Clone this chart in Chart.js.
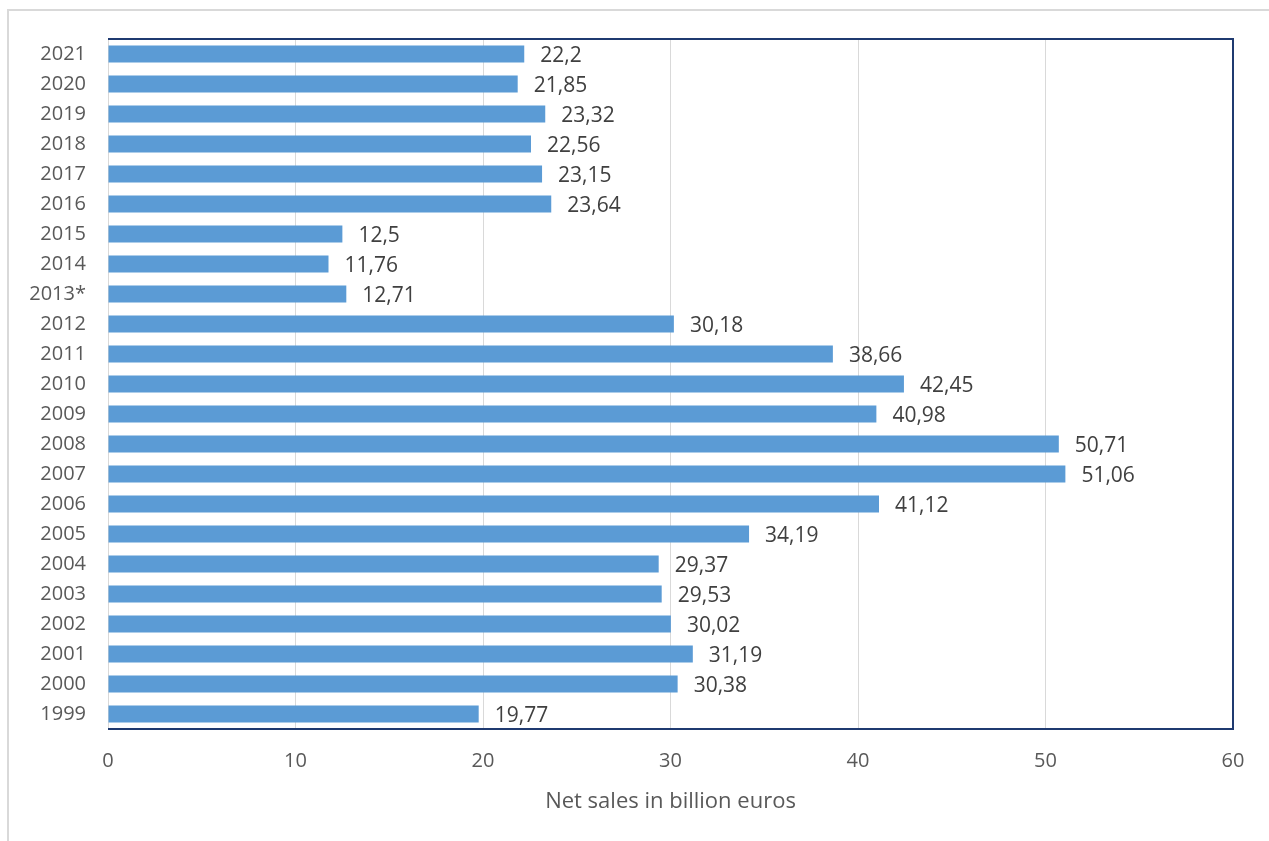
<!DOCTYPE html>
<html>
<head>
<meta charset="utf-8">
<script src="https://cdn.jsdelivr.net/npm/chart.js@4/dist/chart.umd.min.js"></script>
<style>
html,body{margin:0;padding:0;background:#fff;}
#wrap{width:1269px;height:841px;position:relative;}
</style>
</head>
<body>
<div id="wrap"><canvas id="c" width="1269" height="841"></canvas></div>
<script>
const years = ['1999','2000','2001','2002','2003','2004','2005','2006','2007','2008','2009','2010','2011','2012','2013*','2014','2015','2016','2017','2018','2019','2020','2021'];
const netSales = [19.77,30.38,31.19,30.02,29.53,29.37,34.19,41.12,51.06,50.71,40.98,42.45,38.66,30.18,12.71,11.76,12.5,23.64,23.15,22.56,23.32,21.85,22.2];
const xTicks = [0,10,20,30,40,50,60];
const axisTitle = 'Net sales in billion euros';

const FONT = "'Open Sans', sans-serif";

const frame = {
  id: 'frame',
  beforeDraw(chart) {
    const ctx = chart.ctx;
    ctx.save();
    ctx.fillStyle = '#fff';
    ctx.fillRect(0, 0, chart.width, chart.height);
    ctx.strokeStyle = '#d9d9d9';
    ctx.lineWidth = 2;
    ctx.beginPath();
    ctx.moveTo(8, chart.height);
    ctx.lineTo(8, 10);
    ctx.lineTo(chart.width, 10);
    ctx.stroke();
    ctx.restore();
  },
  afterDraw(chart) {
    const a = chart.chartArea, ctx = chart.ctx;
    ctx.save();
    ctx.strokeStyle = '#1f3a70';
    ctx.lineWidth = 2;
    ctx.beginPath();
    ctx.moveTo(a.left, a.top);
    ctx.lineTo(a.right, a.top);
    ctx.lineTo(a.right, a.bottom);
    ctx.lineTo(a.left, a.bottom);
    ctx.stroke();
    ctx.restore();
  }
};

const valueLabels = {
  id: 'valueLabels',
  afterDatasetsDraw(chart) {
    const ctx = chart.ctx;
    const meta = chart.getDatasetMeta(0);
    const data = chart.data.datasets[0].data;
    ctx.save();
    ctx.font = '21px ' + FONT;
    ctx.fillStyle = '#404040';
    ctx.textAlign = 'left';
    ctx.textBaseline = 'middle';
    meta.data.forEach((bar, i) => {
      const txt = String(data[i]).replace('.', ',');
      ctx.fillText(txt, bar.x + 16, bar.y + 2);
    });
    ctx.restore();
  }
};

new Chart(document.getElementById('c'), {
  type: 'bar',
  data: {
    labels: years,
    datasets: [{
      data: netSales,
      backgroundColor: '#5b9bd5',
      borderWidth: 0,
      categoryPercentage: 1.0,
      barPercentage: 0.57
    }]
  },
  options: {
    indexAxis: 'y',
    responsive: false,
    animation: false,
    layout: { padding: { top: 39, right: 36, left: 0, bottom: 0 } },
    plugins: { legend: { display: false }, tooltip: { enabled: false } },
    scales: {
      x: {
        min: 0, max: 60,
        afterBuildTicks(scale) { scale.ticks = xTicks.map(v => ({ value: v })); },
        afterFit(scale) { scale.height = 112; },
        grid: { color: '#d9d9d9', lineWidth: 1, drawTicks: false },
        border: { display: false },
        ticks: { padding: 20, color: '#595959', font: { family: FONT, size: 20 } },
        title: { display: true, text: axisTitle, color: '#595959', font: { family: FONT, size: 22 }, padding: { top: 8, bottom: 26 } }
      },
      y: {
        reverse: true,
        afterFit(scale) { scale.width = 108; },
        grid: { display: false, drawTicks: false },
        border: { display: true, color: '#d9d9d9', width: 1 },
        ticks: { padding: 22, color: '#595959', font: { family: FONT, size: 20 } }
      }
    }
  },
  plugins: [frame, valueLabels]
});
</script>
</body>
</html>
